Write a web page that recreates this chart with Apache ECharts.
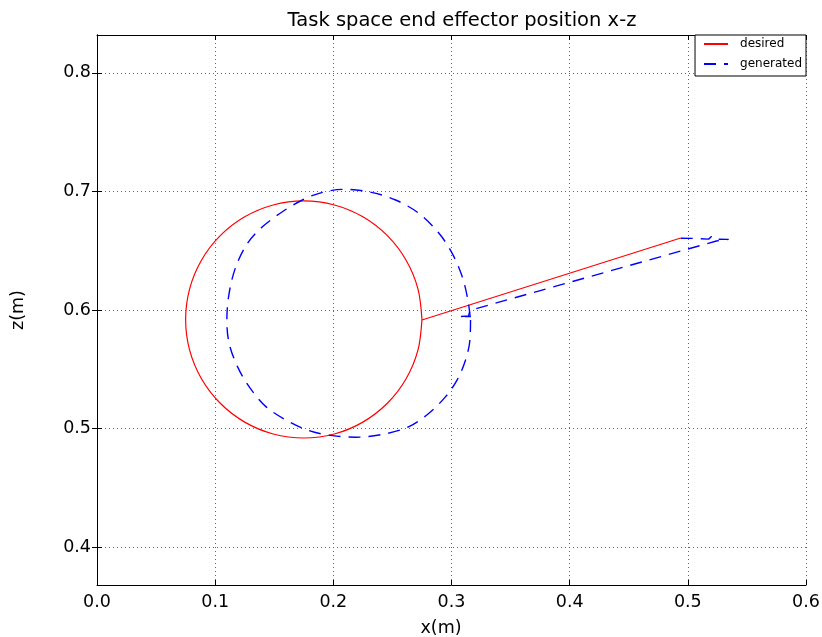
<!DOCTYPE html>
<html><head><meta charset="utf-8">
<script src="https://cdn.jsdelivr.net/npm/echarts@6/dist/echarts.min.js"></script>
<style>html,body{margin:0;padding:0;background:#fff}#c{width:822px;height:637px}</style>
</head><body><div id="c"></div>
<script>
const xTicks = [0.0, 0.1, 0.2, 0.3, 0.4, 0.5, 0.6];
const zTicks = [0.4, 0.5, 0.6, 0.7, 0.8];

// desired trajectory: straight approach, then circle
const desiredApproach = [[0.494, 0.6607], [0.275, 0.5916]];
const desiredCircle = [
  [0.275, 0.592], [0.2716, 0.6179], [0.2616, 0.642], [0.2457, 0.6627], [0.225, 0.6786],
  [0.2009, 0.6886], [0.175, 0.692], [0.1491, 0.6886], [0.125, 0.6786], [0.1043, 0.6627],
  [0.0884, 0.642], [0.0784, 0.6179], [0.075, 0.592], [0.0784, 0.5661], [0.0884, 0.542],
  [0.1043, 0.5213], [0.125, 0.5054], [0.1491, 0.4954], [0.175, 0.492], [0.2009, 0.4954],
  [0.225, 0.5054], [0.2457, 0.5213], [0.2616, 0.542], [0.2716, 0.5661], [0.275, 0.592]
];

// generated trajectory
const generatedApproach = [
  [0.494, 0.6605], [0.505, 0.6604], [0.5176, 0.6598], [0.5200, 0.6620], [0.5222, 0.6598],
  [0.5346, 0.6596], [0.5242, 0.6582], [0.3156, 0.5997], [0.3145, 0.5950], [0.3063, 0.5944],
  [0.3164, 0.5944]
];
const generatedCircle = [
  [0.3161, 0.5916], [0.3156, 0.5747], [0.3119, 0.5578], [0.3048, 0.5410], [0.2950, 0.5269],
  [0.2809, 0.5129], [0.2640, 0.5016], [0.2443, 0.4956], [0.2189, 0.4927], [0.1992, 0.4940],
  [0.1795, 0.4982], [0.1598, 0.5073], [0.1429, 0.5185], [0.1287, 0.5353], [0.1189, 0.5522],
  [0.1118, 0.5719], [0.1099, 0.5916], [0.1118, 0.6141], [0.1175, 0.6365], [0.1273, 0.6562],
  [0.1400, 0.6702], [0.1569, 0.6829], [0.1738, 0.6928], [0.1879, 0.6984], [0.2076, 0.7018],
  [0.2302, 0.6997], [0.2527, 0.6928], [0.2724, 0.6815], [0.2894, 0.6647], [0.3006, 0.6478],
  [0.3091, 0.6281], [0.3139, 0.6084], [0.3161, 0.5916]
];

const FONT = 'DejaVu Sans';
const chart = echarts.init(document.getElementById('c'), null, {renderer: 'canvas'});

const gridLine = {show: true, lineStyle: {color: '#666', width: 1, type: [1, 3]}};
const tickIn = {show: true, inside: true, length: 5, lineStyle: {color: '#000', width: 1}};
const lineAx = {show: true, lineStyle: {color: '#000', width: 1}};
const lbl = {color: '#000', fontFamily: FONT, fontSize: 17.5};
const DASH = [12, 8];

const option = {
  animation: false,
  backgroundColor: '#fff',
  title: {
    text: 'Task space end effector position x-z',
    left: 457, top: 6, textAlign: 'center',
    textStyle: {fontFamily: FONT, fontSize: 19.5, fontWeight: 'normal', color: '#000'}
  },
  legend: {
    data: ['desired', 'generated'],
    orient: 'vertical',
    right: 16, top: 35,
    padding: [3, 4, 6, 8],
    itemWidth: 24, itemHeight: 14, itemGap: 8,
    borderColor: '#000', borderWidth: 1, backgroundColor: '#fff',
    selectedMode: false,
    itemStyle: {color: 'transparent', borderColor: 'transparent', borderWidth: 0, opacity: 0},
    textStyle: {fontFamily: FONT, fontSize: 12, color: '#000', padding: [0, 0, 0, 7]}
  },
  grid: {left: 97, top: 35, right: 16, bottom: 52, containLabel: false, outerBoundsMode: 'none'},
  xAxis: [
    {
      type: 'value', position: 'bottom', min: xTicks[0], max: xTicks[xTicks.length - 1], interval: 0.1,
      name: 'x(m)', nameLocation: 'middle', nameGap: 34,
      nameTextStyle: {fontFamily: FONT, fontSize: 17.5, color: '#000', padding: [0, 21, 0, 0]},
      axisLine: lineAx, axisTick: tickIn, splitLine: gridLine,
      axisLabel: Object.assign({margin: 8, formatter: v => v.toFixed(1)}, lbl)
    },
    {
      type: 'value', position: 'top', min: xTicks[0], max: xTicks[xTicks.length - 1], interval: 0.1,
      axisLine: lineAx, axisTick: tickIn, splitLine: {show: false}, axisLabel: {show: false}
    }
  ],
  yAxis: [
    {
      type: 'value', position: 'left', min: 0.368, max: 0.832,
      name: 'z(m)', nameLocation: 'middle', nameGap: 70,
      nameTextStyle: {fontFamily: FONT, fontSize: 17.5, color: '#000'},
      axisLine: lineAx,
      axisTick: Object.assign({customValues: zTicks}, tickIn),
      splitLine: Object.assign({customValues: zTicks}, gridLine),
      axisLabel: Object.assign({margin: 6, customValues: zTicks, formatter: v => v.toFixed(1)}, lbl)
    },
    {
      type: 'value', position: 'right', min: 0.368, max: 0.832,
      axisLine: lineAx,
      axisTick: Object.assign({customValues: zTicks}, tickIn),
      splitLine: {show: false}, axisLabel: {show: false}
    }
  ],
  series: [
    {name: 'desired', type: 'line', data: desiredApproach, symbol: 'none', showSymbol: false, silent: true,
     lineStyle: {color: '#ff0000', width: 1.2}, itemStyle: {color: '#ff0000'}, z: 3},
    {name: 'desired', type: 'line', data: desiredCircle, smooth: 0.33, symbol: 'none', showSymbol: false, silent: true,
     lineStyle: {color: '#ff0000', width: 1.2}, itemStyle: {color: '#ff0000'}, z: 3},
    {name: 'generated', type: 'line', data: generatedApproach, symbol: 'none', showSymbol: false, silent: true,
     lineStyle: {color: '#0000ff', width: 1.4, type: DASH}, itemStyle: {color: '#0000ff'}, z: 4},
    {name: 'generated', type: 'line', data: generatedCircle, smooth: 0.33, symbol: 'none', showSymbol: false, silent: true,
     lineStyle: {color: '#0000ff', width: 1.4, type: DASH}, itemStyle: {color: '#0000ff'}, z: 4}
  ]
};
chart.setOption(option);
</script>
</body></html>
